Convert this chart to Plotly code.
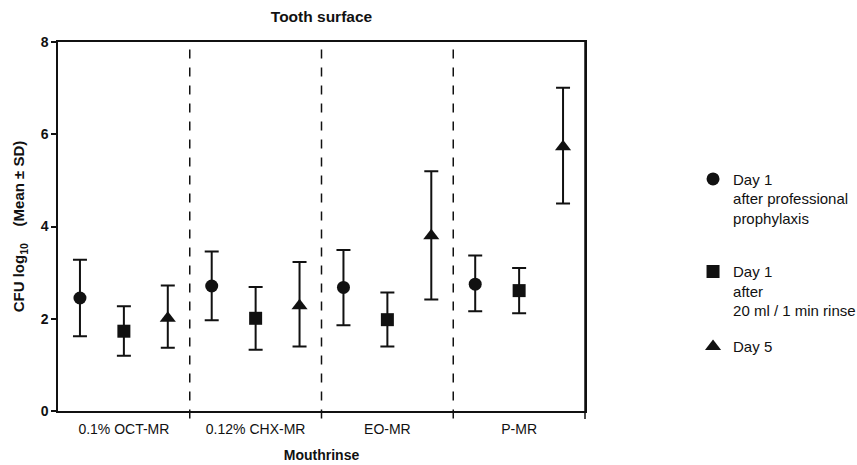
import plotly.graph_objects as go

categories = ["0.1% OCT-MR", "0.12% CHX-MR", "EO-MR", "P-MR"]
series_names = [
    "Day 1<br>after professional<br>prophylaxis",
    "Day 1<br>after<br>20 ml / 1 min rinse",
    "Day 5",
]
day1_prof_mean = [2.45, 2.71, 2.68, 2.75]
day1_prof_upper = [3.28, 3.46, 3.49, 3.37]
day1_prof_lower = [1.62, 1.97, 1.86, 2.16]

day1_rinse_mean = [1.73, 2.01, 1.98, 2.61]
day1_rinse_upper = [2.27, 2.69, 2.57, 3.10]
day1_rinse_lower = [1.20, 1.33, 1.40, 2.12]

day5_mean = [2.01, 2.28, 3.80, 5.73]
day5_upper = [2.72, 3.23, 5.20, 7.01]
day5_lower = [1.37, 1.40, 2.42, 4.50]

y_ticks = [0, 2, 4, 6, 8]

FONT = "Liberation Sans, Arial, sans-serif"
INK = "#111111"

means = [day1_prof_mean, day1_rinse_mean, day5_mean]
uppers = [day1_prof_upper, day1_rinse_upper, day5_upper]
lowers = [day1_prof_lower, day1_rinse_lower, day5_lower]
symbols = ["circle", "square", "triangle-up"]
offsets = [1 / 6, 0.5, 5 / 6]
legends = ["legend", "legend", "legend2"]

fig = go.Figure()
for k in range(3):
    xs = [i + offsets[k] for i in range(len(categories))]
    fig.add_trace(go.Scatter(
        x=xs, y=means[k], mode="markers", name=series_names[k],
        legendgroup=f"g{k}", legend=legends[k],
        marker=dict(symbol=symbols[k], size=13 if k < 2 else 14, color=INK),
        error_y=dict(
            type="data", symmetric=False,
            array=[u - m for u, m in zip(uppers[k], means[k])],
            arrayminus=[m - l for m, l in zip(means[k], lowers[k])],
            color=INK, thickness=2, width=7,
        ),
    ))

# dashed group dividers
for i in range(1, len(categories)):
    fig.add_shape(type="line", xref="x", yref="paper", x0=i, x1=i, y0=-0.02, y1=0.995,
                  line=dict(color=INK, width=1.5, dash="dash"))
# right border extending slightly below axis
fig.add_shape(type="line", xref="paper", yref="paper", x0=1, x1=1, y0=-0.022, y1=1,
              line=dict(color=INK, width=1.5))

legend_common = dict(xanchor="left", yanchor="top", valign="top",
                     font=dict(size=15, color=INK), bgcolor="rgba(0,0,0,0)")

fig.update_layout(
    width=857, height=465,
    margin=dict(l=58, r=272, t=42, b=54, autoexpand=False),
    paper_bgcolor="white", plot_bgcolor="white",
    font=dict(family=FONT, color=INK),
    title=dict(text="<b>Tooth surface</b>", x=(58 + 585) / 2 / 857, xanchor="center",
               y=1 - 17 / 465, yanchor="middle", font=dict(size=15.5, color=INK)),
    showlegend=True,
    legend=dict(x=1.205, y=0.673, tracegroupgap=31, **legend_common),
    legend2=dict(x=1.205, y=0.219, **legend_common),
    xaxis=dict(range=[0, 4], tickvals=[i + 0.5 for i in range(len(categories))],
               ticktext=categories, showgrid=False, zeroline=False, automargin=False,
               showline=True, linecolor=INK, linewidth=1.5, mirror=True,
               ticks="", tickfont=dict(size=14, color=INK), ticklabelstandoff=4,
               title=dict(text="<b>Mouthrinse</b>", font=dict(size=14, color=INK), standoff=15)),
    yaxis=dict(range=[0, 8], tickvals=y_ticks, ticktext=[f"<b>{v}</b>" for v in y_ticks],
               showgrid=False, zeroline=False, showline=True, linecolor=INK, linewidth=1.5,
               mirror=True, ticks="outside", ticklen=5, tickwidth=1.5, tickcolor=INK,
               tickfont=dict(size=14, color=INK), automargin=False,
               title=dict(text="<b>CFU log<sub>10</sub>\u00a0\u00a0\u00a0\u00a0(Mean ± SD)</b>",
                          font=dict(size=15, color=INK), standoff=12)),
)

fig.write_html("out.html")
